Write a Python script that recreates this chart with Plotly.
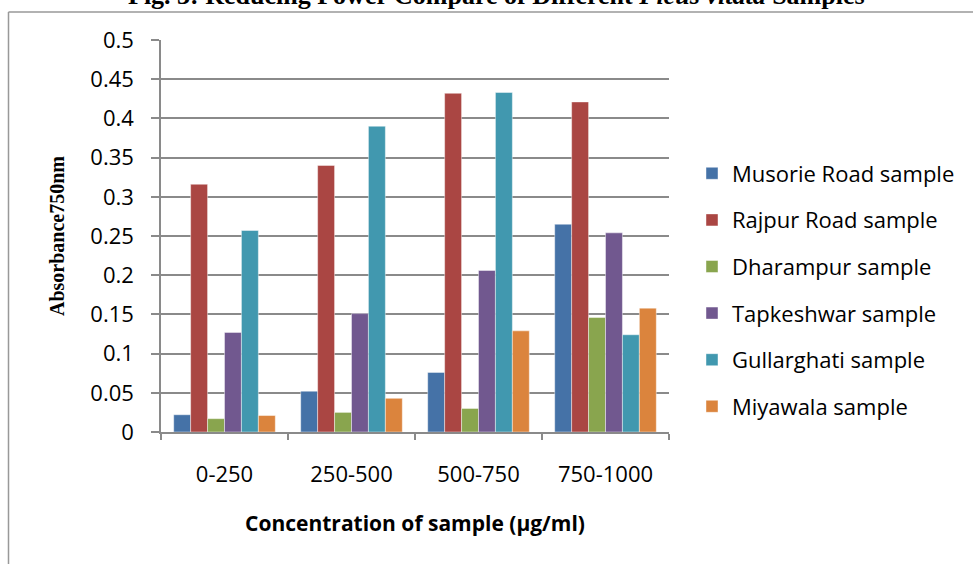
import plotly.graph_objects as go

categories = ["0-250", "250-500", "500-750", "750-1000"]

musorie_road = [0.022, 0.052, 0.076, 0.265]
rajpur_road = [0.316, 0.340, 0.432, 0.421]
dharampur = [0.017, 0.025, 0.030, 0.146]
tapkeshwar = [0.127, 0.151, 0.206, 0.254]
gullarghati = [0.257, 0.390, 0.433, 0.124]
miyawala = [0.021, 0.043, 0.129, 0.158]

series_names = ["Musorie Road sample", "Rajpur Road sample", "Dharampur sample",
                "Tapkeshwar sample", "Gullarghati sample", "Miyawala sample"]
series_values = [musorie_road, rajpur_road, dharampur, tapkeshwar, gullarghati, miyawala]
series_colors = ["#4572A7", "#AA4643", "#89A54E", "#71588F", "#4198AF", "#DB843D"]

y_tick_values = [0, 0.05, 0.1, 0.15, 0.2, 0.25, 0.3, 0.35, 0.4, 0.45, 0.5]
y_tick_labels = ["0", "0.05", "0.1", "0.15", "0.2", "0.25", "0.3", "0.35", "0.4", "0.45", "0.5"]

title_text = "Fig. 3: Reducing Power Compare of Different <i>Ficus vitata</i> Samples"
x_title = "Concentration of sample (µg/ml)"
y_title = "Absorbance750nm"

W, H = 973, 564
L, R, T, B = 161, 304, 40, 132
pw, ph = W - L - R, H - T - B


def px_x(x):
    return (x - L) / pw


def px_y(y):
    return (H - B - y) / ph


fig = go.Figure()
for i, (name, vals, col) in enumerate(zip(series_names, series_values, series_colors)):
    fig.add_trace(go.Bar(
        x=categories, y=vals, name=name, legendgroup=f"g{i}",
        marker=dict(color=col, line=dict(color="rgba(255,255,255,0.55)", width=0.8)),
    ))

grid_col = "#8a8a8a"
sans = "Open Sans"

fig.update_layout(
    width=W, height=H,
    margin=dict(l=L, r=R, t=T, b=B, autoexpand=False),
    paper_bgcolor="white", plot_bgcolor="white",
    barmode="group", bargap=0.2, bargroupgap=0,
    font=dict(family=sans, size=22, color="#000000"),
    showlegend=True,
    legend=dict(
        x=px_x(692), xanchor="left", y=px_y(290), yanchor="middle",
        font=dict(family=sans, size=22, color="#000000"),
        tracegroupgap=15, bgcolor="rgba(0,0,0,0)", borderwidth=0,
        traceorder="grouped",
    ),
    xaxis=dict(
        type="category", showline=True, linecolor=grid_col, linewidth=1.5,
        ticks="outside", ticklen=6, tickcolor=grid_col, tickwidth=1.5,
        tickson="boundaries", showgrid=False, ticklabelstandoff=22,
        tickfont=dict(family=sans, size=22),
        title=dict(text=x_title, font=dict(family=sans, size=21, weight="bold"), standoff=29),
        automargin=False,
    ),
    yaxis=dict(
        range=[0, 0.5], tickvals=y_tick_values, ticktext=y_tick_labels,
        showline=True, linecolor=grid_col, linewidth=1.5,
        ticks="outside", ticklen=8, tickcolor=grid_col, tickwidth=1.5,
        showgrid=True, gridcolor=grid_col, gridwidth=1.5, zeroline=False,
        ticklabelstandoff=13,
        tickfont=dict(family=sans, size=22),
        title=dict(text=y_title, font=dict(family="Liberation Serif", size=20, weight="bold"), standoff=20),
        automargin=False,
    ),
    shapes=[
        dict(type="line", xref="paper", yref="paper", x0=px_x(8.5), x1=px_x(8.5),
             y0=px_y(12), y1=px_y(570), line=dict(color="#999999", width=1.5)),
        dict(type="line", xref="paper", yref="paper", x0=px_x(8.5), x1=px_x(980),
             y0=px_y(12), y1=px_y(12), line=dict(color="#999999", width=1.5)),
    ],
    annotations=[
        dict(text=f"<b>{title_text}</b>", xref="paper", yref="paper",
             x=px_x(496.5), y=px_y(-4.8), xanchor="center", yanchor="middle",
             showarrow=False, font=dict(family="Liberation Serif", size=26, color="#000000")),
    ],
)

fig.write_html("out.html")
